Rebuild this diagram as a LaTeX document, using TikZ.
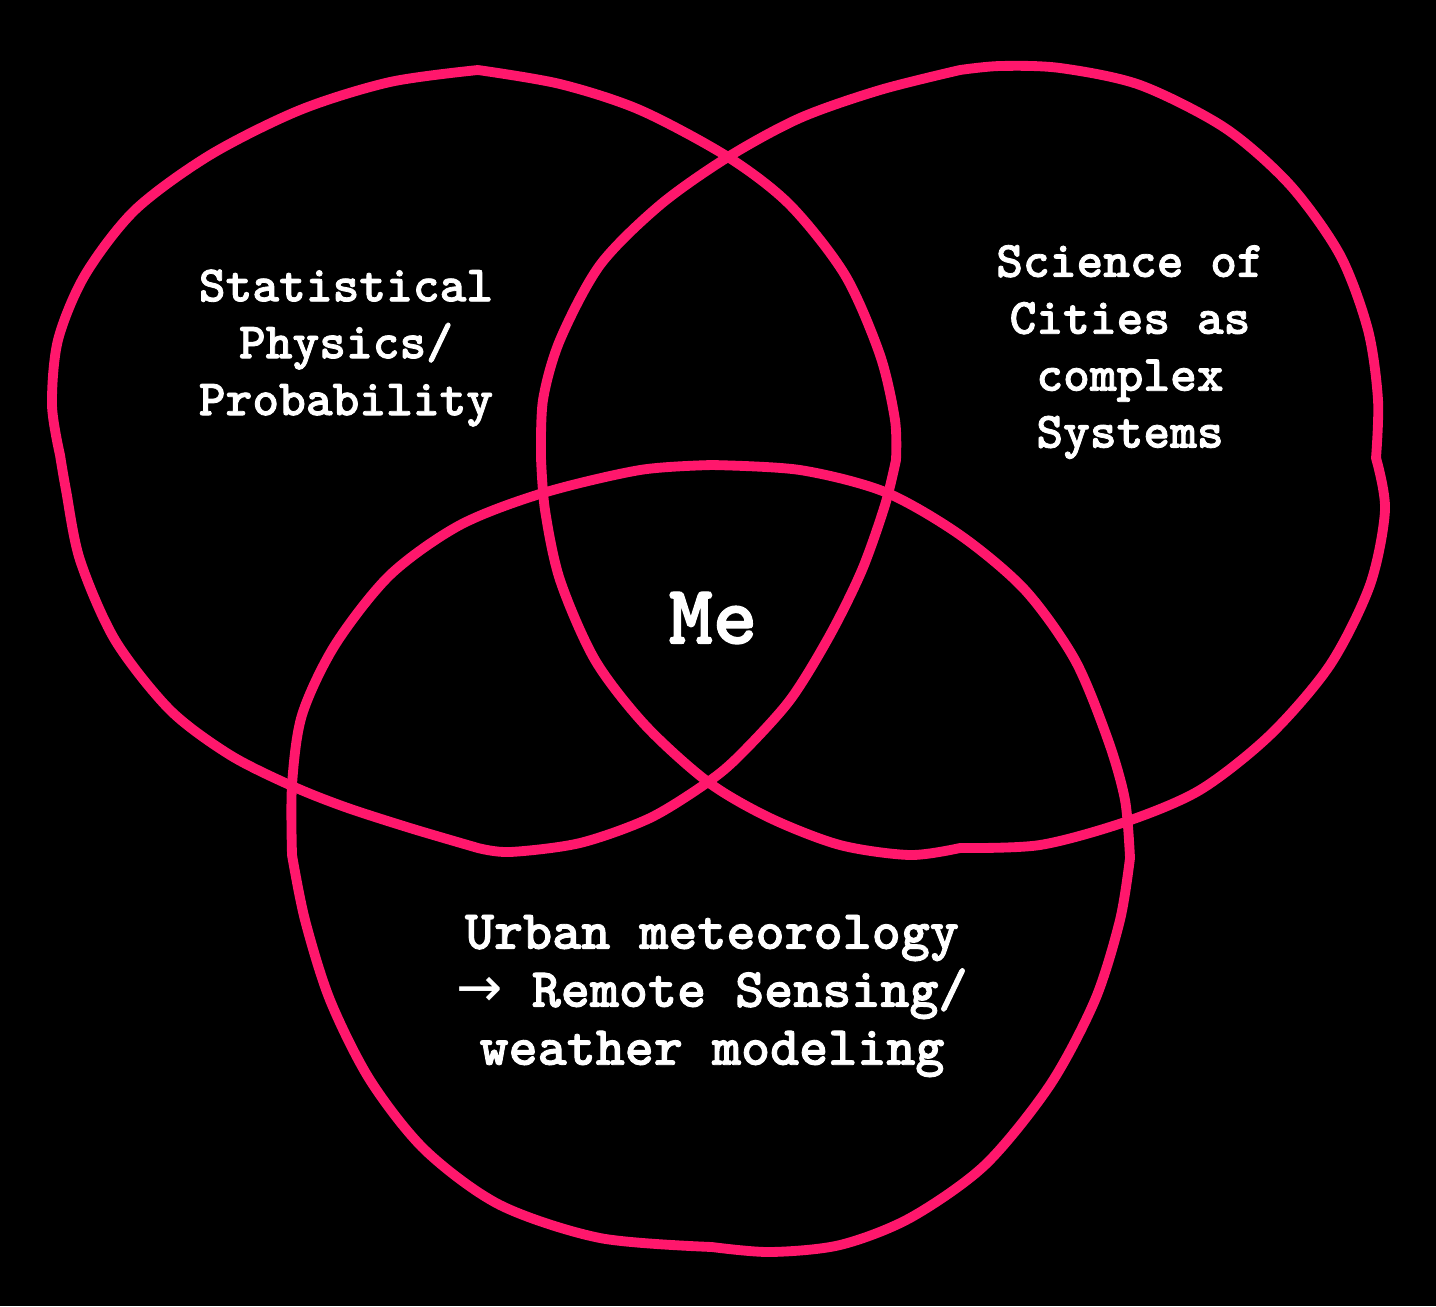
\documentclass[tikz,border=0pt]{standalone}
\usepackage{fontspec}
\newfontfamily\vennfont{lmmonolt10-bold}[Extension=.otf,FakeBold=1.6]
\newfontfamily\arrowfont{DejaVu Sans}
\definecolor{vennpink}{RGB}{255,23,108}
\begin{document}
\begin{tikzpicture}[x=0.02cm,y=-0.02cm,
    venn line/.style={draw=vennpink,line width=5.6pt,line join=round,line cap=round},
    topic node/.style={align=center,text=white,font=\vennfont\fontsize{29}{32.4}\selectfont}]
        \fill[black] (0,0) rectangle (1436,1306);

        % left circle
        \draw[venn line] plot[smooth] coordinates {(478,70) (560,84) (640,110) (728,157) (790,205) (845,275) (880,355) (895,420) (896,460)}
            -- plot[smooth] coordinates {(896,460) (885,505) (862,570) (830,635) (790,700) (740,755) (708,782) (650,818) (580,843) (510,852) (478,848)}
            -- plot[smooth] coordinates {(478,848) (410,828) (345,807) (292,786) (230,755) (170,710) (115,640) (80,560) (66,490) (60,455)}
            -- plot[smooth] coordinates {(60,455) (52,405) (58,340) (85,275) (135,210) (210,155) (300,110) (390,82) (478,70)};
        % right circle
        \draw[venn line] plot[smooth] coordinates {(960,70) (880,90) (800,118) (728,157) (660,205) (600,265) (560,340) (543,400) (541,458)}
            -- plot[smooth] coordinates {(541,458) (545,510) (560,580) (595,660) (645,725) (708,782) (770,818) (840,845) (910,855) (960,848)}
            -- plot[smooth] coordinates {(960,848) (1040,845) (1125,822) (1200,790) (1270,735) (1330,665) (1370,585) (1385,510) (1376,458)}
            -- plot[smooth] coordinates {(1376,458) (1378,400) (1368,330) (1340,255) (1290,185) (1225,128) (1140,85) (1060,68) (1000,66) (960,70)};
        % bottom circle
        \draw[venn line] plot[smooth] coordinates {(712,465) (640,470) (543,493) (460,525) (390,575) (335,645) (302,715) (292,785) (292,855)}
            -- plot[smooth] coordinates {(292,855) (305,920) (330,1000) (370,1080) (425,1150) (500,1205) (600,1238) (712,1247)}
            -- plot[smooth] coordinates {(712,1247) (770,1252) (840,1245) (910,1218) (985,1165) (1050,1085) (1095,1000) (1120,920) (1130,858)}
            -- plot[smooth] coordinates {(1130,858) (1125,800) (1108,740) (1075,660) (1025,590) (960,535) (885,492) (800,470) (712,465)};

        \node[topic node] at (346,348) (stat) {Statistical\\Physics/\\Probability};
        \node[topic node] at (1130,352) (cities) {Science of\\Cities as\\complex\\Systems};
        \node[topic node,font=\vennfont\fontsize{48}{52}\selectfont] at (713,618) (me) {Me};
        \node[topic node,font=\vennfont\fontsize{31.5}{33}\selectfont] at (712,996) (urban) {Urban meteorology\\{\arrowfont →} Remote Sensing/\\weather modeling};
\end{tikzpicture}
\end{document}
